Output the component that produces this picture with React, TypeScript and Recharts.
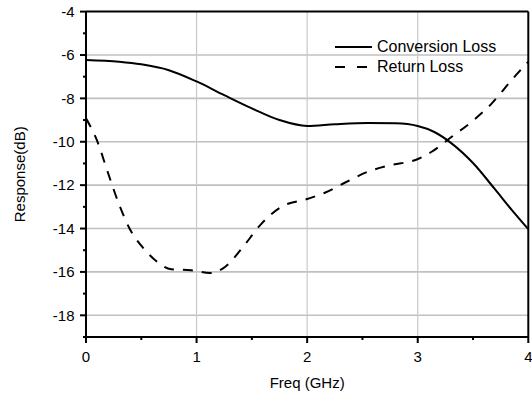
import React from 'react';
import { LineChart, Line, XAxis, YAxis, Legend } from 'recharts';

const convFreq = [0, 0.3, 0.5, 0.75, 1.0, 1.25, 1.5, 1.75, 2.0, 2.25, 2.55, 2.8, 3.0, 3.15, 3.3, 3.5, 3.7, 3.85, 4.0];
const convLoss = [-6.23, -6.31, -6.43, -6.7, -7.22, -7.85, -8.46, -9.0, -9.27, -9.19, -9.13, -9.15, -9.27, -9.55, -10.05, -10.98, -12.2, -13.14, -14.03];

const retFreq = [0, 0.1, 0.2, 0.3, 0.4, 0.52, 0.64, 0.77, 0.95, 1.12, 1.26, 1.41, 1.59, 1.77, 2.0, 2.16, 2.34, 2.55, 2.76, 2.98, 3.13, 3.31, 3.49, 3.67, 3.85, 4.0];
const retLoss = [-8.92, -9.95, -11.45, -12.9, -14.06, -14.91, -15.52, -15.88, -15.92, -16.05, -15.76, -14.91, -13.76, -12.99, -12.64, -12.35, -11.89, -11.38, -11.07, -10.84, -10.45, -9.76, -9.07, -8.23, -7.15, -6.31];

const xTicks = [0, 0.5, 1, 1.5, 2, 2.5, 3, 3.5, 4];
const xMajor = [0, 1, 2, 3, 4];
const yTicks = [-19, -18, -17, -16, -15, -14, -13, -12, -11, -10, -9, -8, -7, -6, -5, -4];
const yMajor = [-18, -16, -14, -12, -10, -8, -6, -4];
const xDomain = [0, 4];
const yDomain = [-19, -4];

const seriesNames = ['Conversion Loss', 'Return Loss'];

const convData = convFreq.map((f, i) => ({ f, v: convLoss[i] }));
const retData = retFreq.map((f, i) => ({ f, v: retLoss[i] }));

// grid lines built from the major tick values
const hGrid = yMajor.filter((v) => v > yDomain[0] && v < yDomain[1]).map((v) => [
  { f: xDomain[0], v },
  { f: xDomain[1], v },
]);
const vGrid = xMajor.filter((f) => f > xDomain[0] && f < xDomain[1]).map((f) => [
  { f, v: yDomain[0] },
  { f, v: yDomain[1] },
]);

const FONT = '"Liberation Sans", Arial, sans-serif';
const TICK_SIZE = 6;

const BottomTick = (props: any) => {
  const { x, y, payload } = props;
  const axisY = y - TICK_SIZE;
  const major = xMajor.includes(payload.value);
  return (
    <g>
      <line x1={x} x2={x} y1={axisY} y2={axisY + (major ? 6 : 3)} stroke="#000" strokeWidth={2} />
      {major && (
        <text x={x} y={axisY + 25} textAnchor="middle" fontSize={15} fontFamily={FONT} fill="#000">
          {payload.value}
        </text>
      )}
    </g>
  );
};

const LeftTick = (props: any) => {
  const { x, y, payload } = props;
  const axisX = x + TICK_SIZE;
  const major = yMajor.includes(payload.value);
  return (
    <g>
      <line x1={axisX} x2={axisX - (major ? 6 : 3)} y1={y} y2={y} stroke="#000" strokeWidth={2} />
      {major && (
        <text x={axisX - 11.5} y={y + 5.3} textAnchor="end" fontSize={15} fontFamily={FONT} fill="#000">
          {payload.value}
        </text>
      )}
    </g>
  );
};

const NoTick = () => <g />;

const LegendContent = () => (
  <div style={{ fontFamily: FONT, fontSize: 16, color: '#000', lineHeight: '19.7px' }}>
    {seriesNames.map((name, i) => (
      <div key={name} style={{ display: 'flex', alignItems: 'center', whiteSpace: 'nowrap' }}>
        <svg width={42} height={19.7} style={{ display: 'block' }}>
          <line
            x1={0}
            x2={37}
            y1={10}
            y2={10}
            stroke="#000"
            strokeWidth={2}
            strokeDasharray={i === 1 ? '10 12' : undefined}
          />
        </svg>
        <span>{name}</span>
      </div>
    ))}
  </div>
);

export default function App() {
  return (
    <div style={{ position: 'absolute', left: 0, top: 0, width: 532, height: 396, background: '#fff' }}>
      <LineChart width={532} height={396} margin={{ top: 10.6, right: 2.7, bottom: 0, left: 0 }}>
        <XAxis
          xAxisId="b"
          type="number"
          dataKey="f"
          domain={xDomain}
          ticks={xTicks}
          interval={0}
          allowDataOverflow
          height={59}
          tickSize={TICK_SIZE}
          tickMargin={0}
          tickLine={false}
          axisLine={{ stroke: '#000', strokeWidth: 2 }}
          tick={<BottomTick />}
          label={{
            content: (p: any) => {
              const vb = p.viewBox || {};
              return (
                <text x={vb.x + vb.width / 2} y={vb.y + 50.5} textAnchor="middle" fontSize={15} fontFamily={FONT} fill="#000">
                  Freq (GHz)
                </text>
              );
            },
          }}
        />
        <XAxis
          xAxisId="t"
          orientation="top"
          type="number"
          domain={xDomain}
          ticks={xTicks}
          interval={0}
          height={1}
          tickSize={2}
          tickLine={{ stroke: '#000', strokeWidth: 2 }}
          axisLine={{ stroke: '#000', strokeWidth: 2 }}
          tick={<NoTick />}
        />
        <YAxis
          yAxisId="l"
          type="number"
          domain={yDomain}
          ticks={yTicks}
          interval={0}
          allowDataOverflow
          width={86}
          tickSize={TICK_SIZE}
          tickMargin={0}
          tickLine={false}
          axisLine={{ stroke: '#000', strokeWidth: 2 }}
          tick={<LeftTick />}
          label={{
            content: (p: any) => {
              const vb = p.viewBox || {};
              const cx = vb.x + 25;
              const cy = vb.y + vb.height / 2;
              return (
                <text x={cx} y={cy} transform={`rotate(-90 ${cx} ${cy})`} textAnchor="middle" fontSize={15} fontFamily={FONT} fill="#000">
                  Response(dB)
                </text>
              );
            },
          }}
        />
        <YAxis
          yAxisId="r"
          orientation="right"
          type="number"
          domain={yDomain}
          ticks={yTicks}
          interval={0}
          width={1}
          tickSize={2}
          tickLine={{ stroke: '#000', strokeWidth: 2 }}
          axisLine={{ stroke: '#000', strokeWidth: 2 }}
          tick={<NoTick />}
        />
        {hGrid.map((d, i) => (
          <Line
            key={'h' + i}
            xAxisId="b"
            yAxisId="l"
            data={d}
            dataKey="v"
            type="linear"
            stroke="#c0c0c0"
            strokeWidth={1.6}
            dot={false}
            activeDot={false}
            legendType="none"
            isAnimationActive={false}
          />
        ))}
        {vGrid.map((d, i) => (
          <Line
            key={'v' + i}
            xAxisId="b"
            yAxisId="l"
            data={d}
            dataKey="v"
            type="linear"
            stroke="#c8c8c8"
            strokeWidth={1.2}
            dot={false}
            activeDot={false}
            legendType="none"
            isAnimationActive={false}
          />
        ))}
        <Line
          xAxisId="b"
          yAxisId="l"
          data={convData}
          dataKey="v"
          name={seriesNames[0]}
          type="monotone"
          stroke="#000"
          strokeWidth={2}
          dot={false}
          activeDot={false}
          isAnimationActive={false}
        />
        <Line
          xAxisId="b"
          yAxisId="l"
          data={retData}
          dataKey="v"
          name={seriesNames[1]}
          type="monotone"
          stroke="#000"
          strokeWidth={2}
          strokeDasharray="10 9"
          dot={false}
          activeDot={false}
          isAnimationActive={false}
        />
        <Legend
          layout="horizontal"
          verticalAlign="middle"
          align="center"
          content={<LegendContent />}
          wrapperStyle={{ left: 335, top: 37, width: 180, height: 40 }}
        />
      </LineChart>
    </div>
  );
}
